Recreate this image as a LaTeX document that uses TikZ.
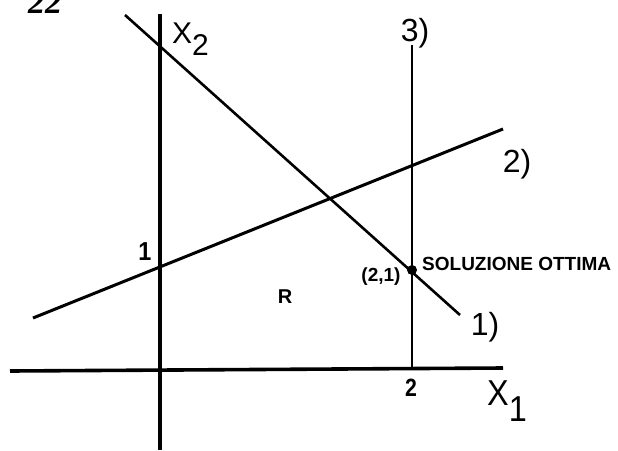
\documentclass[tikz,border=0pt]{standalone}
\usepackage{fontspec}
\setmainfont{Liberation Sans}
\newfontfamily\serifbi{Liberation Serif}
\begin{document}
\begin{tikzpicture}[x=1pt,y=-1pt,
  axis/.style={line width=3.6pt},
  cons/.style={line width=2.6pt},
  lab/.style={inner sep=0pt},
  num/.style={lab,font=\fontsize{32}{36}\selectfont},
  small/.style={lab,font=\bfseries\fontsize{19}{22}\selectfont}]
\useasboundingbox (0,0) rectangle (618,450);
% axes
\coordinate (yb) at (160,450);
\coordinate (yt) at (160,14);
\coordinate (xl) at (10,371);
\coordinate (xr) at (503,368);
\draw[axis] (yb) -- (yt);
\draw[axis] (xl) -- (xr);
% constraint 3
\coordinate (c3b) at (412,369);
\coordinate (c3t) at (412,45);
\draw[line width=2.2pt] (c3b) -- (c3t);
% constraint 1
\coordinate (c1a) at (125,15);
\coordinate (c1b) at (460,315);
\draw[cons] (c1a) -- (c1b);
% constraint 2
\coordinate (c2a) at (33,318);
\coordinate (c2b) at (503,129);
\draw[line width=3pt] (c2a) -- (c2b);
% optimum
\coordinate (opt) at (412,270);
\fill (opt) circle (5pt);
% labels
\node[lab,font=\serifbi\bfseries\itshape\fontsize{34}{36}\selectfont,anchor=base] (n22) at (45,13) {22};
\node[lab,font=\fontsize{30}{34}\selectfont,anchor=base west] (x2) at (172,43) {X\raisebox{-12pt}{2}};
\node[lab,font=\fontsize{36}{40}\selectfont,anchor=base west,xscale=0.9] (x1) at (487,405) {X\raisebox{-16pt}{1}};
\node[num] (l3) at (415,33) {3)};
\node[num] (l2) at (517,164) {2)};
\node[num] (l1) at (485,327) {1)};
\node[lab,font=\bfseries\fontsize{26}{30}\selectfont,xscale=0.9] (one) at (145,252) {1};
\node[lab,font=\bfseries\fontsize{20}{22}\selectfont] (R) at (285,297) {R};
\node[small] (pt) at (381,277) {(2,1)};
\node[lab,font=\bfseries\fontsize{19}{22}\selectfont,anchor=base west] (sol) at (422,270) {SOLUZIONE OTTIMA};
\node[lab,font=\bfseries\fontsize{25}{30}\selectfont,xscale=0.85] (two) at (411,388) {2};
\end{tikzpicture}
\end{document}
